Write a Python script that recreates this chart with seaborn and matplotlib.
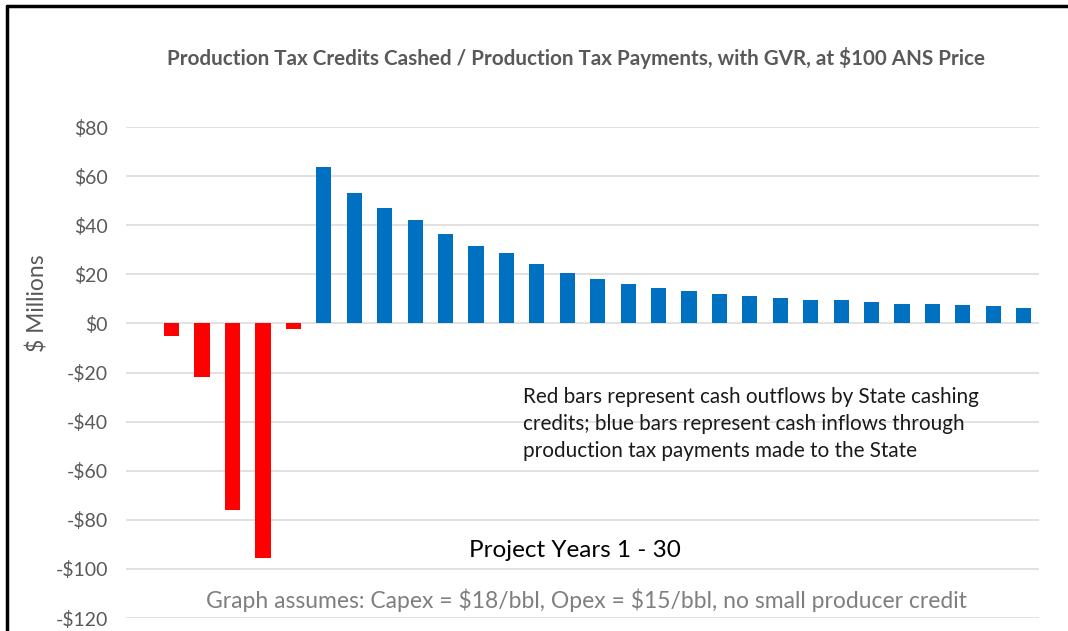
import matplotlib
matplotlib.use("Agg")
import matplotlib.pyplot as plt
import seaborn as sns
import pandas as pd
from matplotlib.lines import Line2D

years = list(range(1, 31))
red_values = [-5.3, -22.0, -76.0, -95.5, -2.4]
blue_values = [63.9, 53.3, 47.0, 42.3, 36.5, 31.5, 28.7, 24.2, 20.5, 18.2,
               16.2, 14.3, 13.4, 11.9, 11.0, 10.4, 9.5, 9.5, 8.9, 8.1,
               8.1, 7.5, 7.0, 6.4]
values = [0.0] + red_values + blue_values
yticks = [-120, -100, -80, -60, -40, -20, 0, 20, 40, 60, 80]

df = pd.DataFrame({
    "year": [str(y) for y in years],
    "value": values,
    "kind": ["inflow" if v >= 0 else "outflow" for v in values],
})

sns.set_theme(style="white")
plt.rcParams["font.family"] = ["Lato", "DejaVu Sans"]
plt.rcParams["text.parse_math"] = False

fig = plt.figure(figsize=(10.68, 6.31), dpi=100)
ax = fig.add_axes([0.118, 0.0206, 0.8548, 0.7781])

sns.barplot(data=df, x="year", y="value", hue="kind",
            palette={"inflow": "#0070C0", "outflow": "#FF0000"},
            saturation=1, dodge=False, width=0.5, linewidth=0, legend=False,
            ax=ax, zorder=3)

ax.set_ylim(-120, 80)
ax.set_xlim(-0.5, 29.5)
ax.set_yticks(yticks)
ax.set_yticklabels([("-$%d" % -t) if t < 0 else ("$%d" % t) for t in yticks],
                   fontsize=14, color="#595959")
ax.tick_params(axis="y", length=0, pad=13)
ax.set_xticks([])
ax.set_xlabel("")
ax.set_ylabel("$ Millions", fontsize=16.5, color="#595959")
ax.yaxis.set_label_coords(-0.085, 0.642)
for s in ax.spines.values():
    s.set_visible(False)
ax.grid(axis="y", color="#d9d9d9", linewidth=1.1, zorder=0)
ax.set_axisbelow(True)

fig.text(0.539, 0.908,
         "Production Tax Credits Cashed / Production Tax Payments, with GVR, at $100 ANS Price",
         ha="center", va="center", fontsize=14.9, fontweight="bold", color="#595959")

fig.text(0.49, 0.328,
         "Red bars represent cash outflows by State cashing\n"
         "credits; blue bars represent cash inflows through\n"
         "production tax payments made to the State",
         ha="left", va="center", fontsize=14.9, color="#1a1a1a", linespacing=1.43)

fig.text(0.538, 0.127, "Project Years 1 - 30", ha="center", va="center",
         fontsize=17.5, color="#000000")

fig.text(0.549, 0.049,
         "Graph assumes: Capex = $18/bbl, Opex = $15/bbl, no small producer credit",
         ha="center", va="center", fontsize=16.5, color="#7f7f7f")

# frame (top and left edges visible)
fig.add_artist(Line2D([0.0065, 1.0], [0.9905, 0.9905], transform=fig.transFigure,
                      color="black", linewidth=2.5))
fig.add_artist(Line2D([0.0065, 0.0065], [0.0, 0.9905], transform=fig.transFigure,
                      color="black", linewidth=2.5))

fig.savefig("out.png", dpi=100)
